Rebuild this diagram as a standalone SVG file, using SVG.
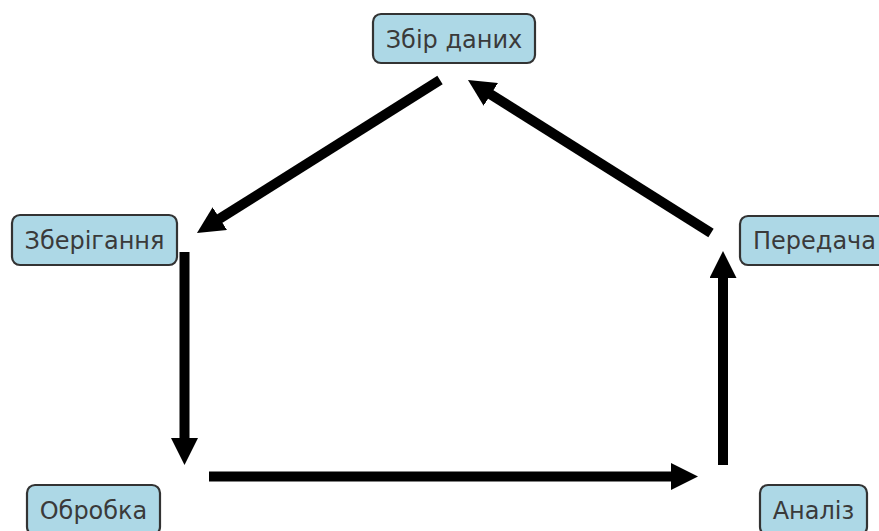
<svg xmlns="http://www.w3.org/2000/svg" width="879" height="531" viewBox="0 0 879 531">
  <defs>
    <marker id="head" markerUnits="userSpaceOnUse" markerWidth="27" markerHeight="27" viewBox="0 0 27 27" refX="7" refY="13.5" orient="auto">
      <path d="M0,0 L27,13.5 L0,27 z" fill="#000"/>
    </marker>
    <style>
      .box { fill: #add8e6; stroke: #333; stroke-width: 2.2; }
      .lbl { font-family: "DejaVu Sans", "Noto Sans", sans-serif; font-size: 24px; fill: #3a3a3a; }
      .arrow { stroke: #000; stroke-width: 10; fill: none; marker-end: url(#head); }
    </style>
  </defs>
  <rect width="879" height="531" fill="#fff"/>

  <g id="connectors">
    <line class="arrow" x1="440" y1="80" x2="213.9" y2="222.3"/>
    <line class="arrow" x1="711" y1="233" x2="484.9" y2="90.7"/>
    <line class="arrow" x1="184.5" y1="252" x2="184.5" y2="445"/>
    <line class="arrow" x1="209" y1="476.5" x2="678" y2="476.5"/>
    <line class="arrow" x1="723" y1="465" x2="723" y2="271"/>
  </g>

  <g id="node-zbir">
    <rect class="box" x="373" y="14" width="162" height="49" rx="8"/>
    <text class="lbl" x="454" y="47.5" text-anchor="middle">Збір даних</text>
  </g>
  <g id="node-zberihannia">
    <rect class="box" x="12" y="215" width="165" height="50" rx="8"/>
    <text class="lbl" x="94.5" y="248.5" text-anchor="middle">Зберігання</text>
  </g>
  <g id="node-peredacha">
    <rect class="box" x="740" y="216" width="146" height="49" rx="8"/>
    <text class="lbl" x="753" y="248.5">Передача</text>
  </g>
  <g id="node-obrobka">
    <rect class="box" x="27" y="485" width="133" height="50" rx="8"/>
    <text class="lbl" x="93.5" y="518.5" text-anchor="middle">Обробка</text>
  </g>
  <g id="node-analiz">
    <rect class="box" x="760" y="485" width="107" height="50" rx="8"/>
    <text class="lbl" x="813.5" y="518.5" text-anchor="middle">Аналіз</text>
  </g>
</svg>
